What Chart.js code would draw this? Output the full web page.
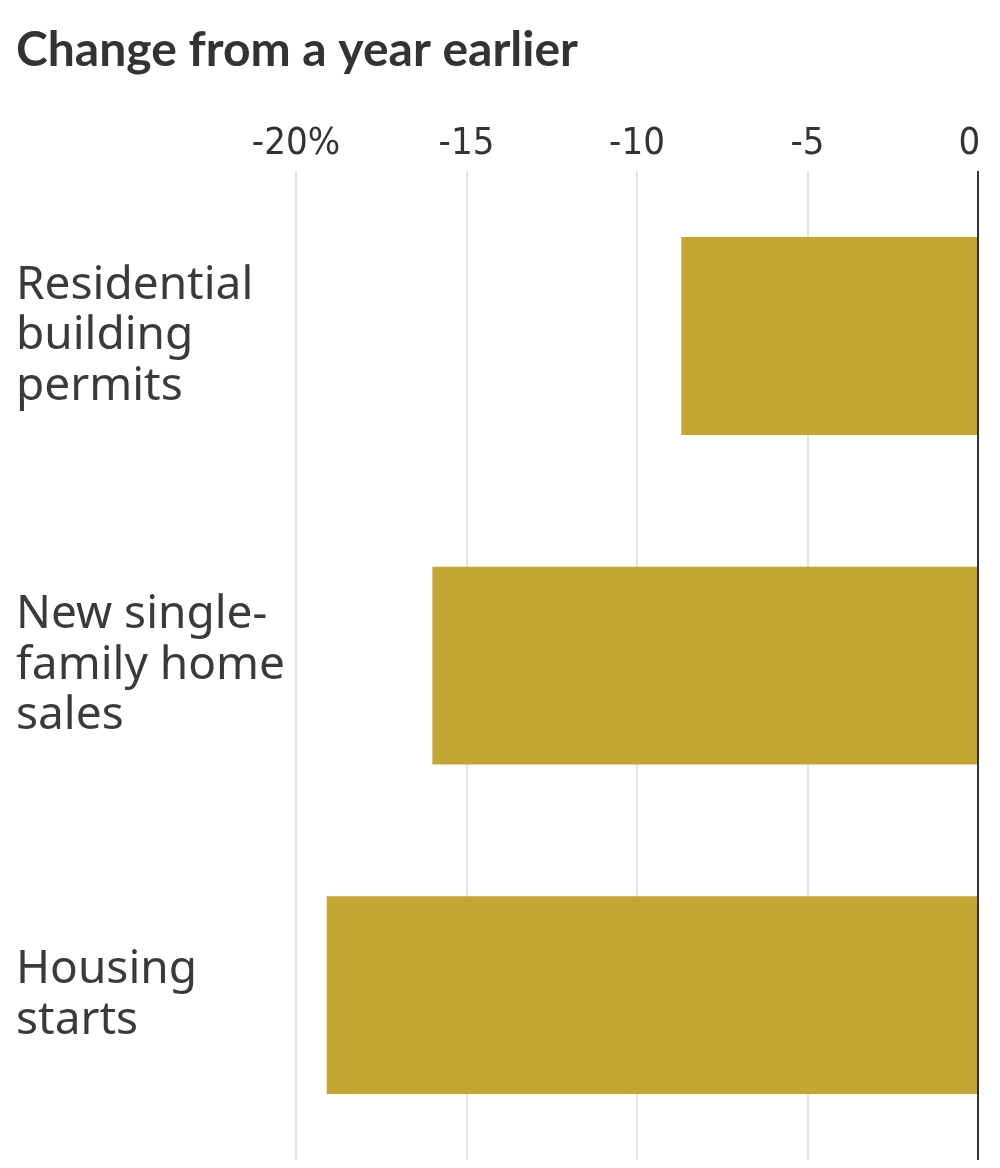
<!DOCTYPE html>
<html>
<head>
<meta charset="utf-8">
<script src="https://cdn.jsdelivr.net/npm/chart.js@4"></script>
<style>
  html, body { margin: 0; padding: 0; background: #fff; }
  #wrap { width: 1000px; height: 1168px; }
</style>
</head>
<body>
<div id="wrap"><canvas id="chart"></canvas></div>
<script>
// categories and values (% change from a year earlier)
const categories = [
    ['Residential', 'building', 'permits'],
    ['New single-', 'family home', 'sales'],
    ['Housing', 'starts']
];
const changeValues = [-8.7, -16.0, -19.1];
const tickValues = [-20, -15, -10, -5, 0];

new Chart(document.getElementById('chart'), {
    type: 'bar',
    data: {
        labels: categories,
        datasets: [{
            data: changeValues,
            backgroundColor: '#c4a632',
            borderWidth: 0,
            barPercentage: 0.6,
            categoryPercentage: 1
        }]
    },
    options: {
        indexAxis: 'y',
        responsive: true,
        maintainAspectRatio: false,
        animation: false,
        layout: { padding: { left: 16, right: 22, top: 8, bottom: 8 } },
        plugins: {
            legend: { display: false },
            tooltip: { enabled: false },
            title: {
                display: true,
                text: 'Change from a year earlier',
                align: 'start',
                color: '#333',
                font: { family: 'Lato', size: 48, weight: 'bold' },
                padding: { top: 14, bottom: 38 }
            }
        },
        scales: {
            x: {
                position: 'top',
                min: -20,
                max: 0,
                afterBuildTicks: (axis) => {
                    axis.ticks = tickValues.map(v => ({ value: v }));
                },
                afterFit: (axis) => {
                    axis.paddingLeft = 0;
                    axis.paddingRight = 0;
                },
                ticks: {
                    color: '#333',
                    font: { family: "'Liberation Sans Narrow', 'DejaVu Sans Condensed', Roboto", size: 38, weight: 300 },
                    padding: 4,
                    maxRotation: 0,
                    // last label nudged left so it sits inside the chart like the original
                    callback: (v) => v === -20 ? '-20%' : (v === 0 ? '0\u2002' : String(v))
                },
                grid: {
                    drawTicks: false,
                    color: (ctx) => ctx.tick && ctx.tick.value === 0 ? '#333' : '#e3e3e3',
                    lineWidth: 2
                },
                border: { display: false }
            },
            y: {
                afterFit: (axis) => {
                    axis.width = 280;
                    axis.paddingTop = 0;
                    axis.paddingBottom = 0;
                },
                ticks: {
                    crossAlign: 'far',
                    color: '#3a3a3a',
                    font: { family: 'Noto Sans', size: 46, lineHeight: 1.1 },
                    padding: 0
                },
                grid: { display: false },
                border: { display: false }
            }
        }
    }
});
</script>
</body>
</html>
